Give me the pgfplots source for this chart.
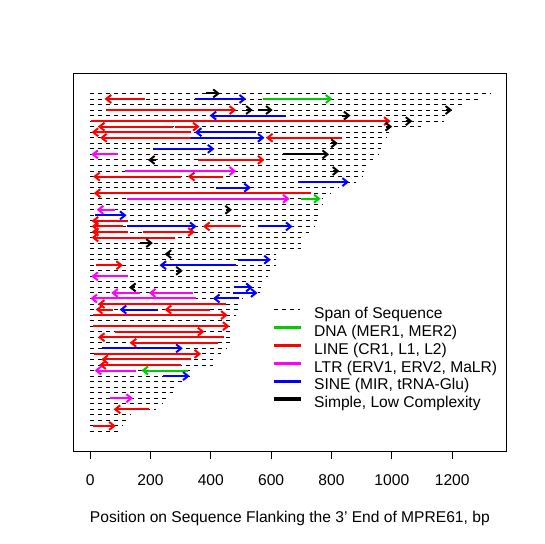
\documentclass[border=0pt]{standalone}
\usepackage{pgfplots}
\pgfplotsset{compat=1.18}
\usepackage{fontspec}
\setmainfont{Liberation Sans}
\usetikzlibrary{arrows.meta}
\definecolor{lgreen}{RGB}{0,205,0}
\definecolor{lred}{RGB}{255,0,0}
\definecolor{lmag}{RGB}{255,0,255}
\definecolor{lblue}{RGB}{0,0,255}
\tikzset{
  spanline/.style={black, line width=0.9bp, dash pattern=on 4bp off 4bp},
  arrowline/.style={line width=2bp, -{Straight Barb[length=5bp,width=8bp]}},
}
\newcommand{\spanrow}[2]{\addplot[spanline, forget plot] coordinates {(0,#1) (#2,#1)};}
\newcommand{\arr}[4]{\addplot[#1, arrowline, forget plot] coordinates {(#3,#2) (#4,#2)};}
\newcommand{\legbar}[1]{\addlegendimage{legend image code/.code={\fill[#1] (0bp,4.2bp) rectangle (26.7bp,6.4bp);}}}
\begin{document}
\begin{tikzpicture}[font=\fontsize{15.6bp}{18bp}\selectfont]
\path (0,0) rectangle (545bp,544bp);
\begin{axis}[
  at={(73.2bp,92.3bp)}, anchor=south west,
  scale only axis, width=433.3bp, height=378.5bp,
  xmin=-56, xmax=1380,
  ymin=-2.65, ymax=65.65, y dir=reverse,
  xtick={0,200,400,600,800,1000,1200},
  ytick=\empty,
  xtick pos=bottom,
  tick align=outside,
  major tick length=7.5bp,
  every tick/.style={black, line width=0.8bp},
  axis line style={line width=0.8bp},
  /pgf/number format/assume math mode=true,
  /pgf/number format/1000 sep={},
  xticklabel style={anchor=base, yshift=-25.8bp},
  xlabel={Position on Sequence Flanking the 3' End of MPRE61, bp},
  xlabel style={at={(axis description cs:0.5,0)}, anchor=base, yshift=-70.5bp},
  legend cell align=left,
  legend style={draw=none, fill=none, at={(rel axis cs:0.4618,0.3804)}, anchor=north west,
    inner sep=0pt, outer sep=0pt, row sep=3.3bp, column sep=13.3bp,
    nodes={inner sep=0pt, text height=11bp, text depth=3.5bp}},
]
\addlegendimage{legend image code/.code={\draw[black, line width=0.9bp, dash pattern=on 4bp off 4bp] (0bp,5.2bp) -- (26.7bp,5.2bp);}}
\addlegendentry{Span of Sequence}
\legbar{lgreen}
\addlegendentry{DNA (MER1, MER2)}
\legbar{lred}
\addlegendentry{LINE (CR1, L1, L2)}
\legbar{lmag}
\addlegendentry{LTR (ERV1, ERV2, MaLR)}
\legbar{lblue}
\addlegendentry{SINE (MIR, tRNA-Glu)}
\legbar{black}
\addlegendentry{Simple, Low Complexity}

\spanrow{1}{1328}
\spanrow{2}{1284}
\spanrow{3}{1245}
\spanrow{4}{1201}
\spanrow{5}{1177}
\spanrow{6}{1174}
\spanrow{7}{1096}
\spanrow{8}{990}
\spanrow{9}{985}
\spanrow{10}{980}
\spanrow{11}{964}
\spanrow{12}{959}
\spanrow{13}{937}
\spanrow{14}{926}
\spanrow{15}{909}
\spanrow{16}{904}
\spanrow{17}{882}
\spanrow{18}{826}
\spanrow{19}{799}
\spanrow{20}{771}
\spanrow{21}{771}
\spanrow{22}{766}
\spanrow{23}{755}
\spanrow{24}{751}
\spanrow{25}{744}
\spanrow{26}{727}
\spanrow{27}{700}
\spanrow{28}{700}
\spanrow{29}{700}
\spanrow{30}{617}
\spanrow{31}{617}
\spanrow{32}{617}
\spanrow{33}{595}
\spanrow{34}{590}
\spanrow{35}{579}
\spanrow{36}{567}
\spanrow{37}{562}
\spanrow{38}{507}
\spanrow{39}{501}
\spanrow{40}{501}
\spanrow{41}{485}
\spanrow{42}{474}
\spanrow{43}{474}
\spanrow{44}{463}
\spanrow{45}{463}
\spanrow{46}{463}
\spanrow{47}{452}
\spanrow{48}{435}
\spanrow{49}{407}
\spanrow{50}{407}
\spanrow{51}{330}
\spanrow{52}{330}
\spanrow{53}{307}
\spanrow{54}{291}
\spanrow{55}{274}
\spanrow{56}{252}
\spanrow{57}{241}
\spanrow{58}{217}
\spanrow{59}{137}
\spanrow{60}{118}
\spanrow{61}{107}
\spanrow{62}{93}

\arr{black}{1}{385}{430}
\arr{lred}{2}{181}{48}
\arr{lblue}{2}{346}{517}
\arr{lgreen}{2}{572}{803}
\arr{lred}{4}{54}{484}
\arr{black}{4}{517}{539}
\arr{black}{4}{555}{605}
\arr{black}{4}{1178}{1200}
\arr{lblue}{5}{649}{396}
\arr{black}{5}{836}{863}
\arr{lred}{6}{4}{996}
\arr{black}{6}{1046}{1068}
\arr{lred}{7}{275}{26}
\arr{lred}{7}{282}{363}
\arr{black}{7}{979}{1001}
\arr{lred}{8}{336}{5}
\arr{lblue}{8}{550}{347}
\arr{lred}{9}{336}{33}
\arr{lblue}{9}{335}{578}
\arr{lred}{9}{836}{583}
\arr{black}{10}{799}{821}
\arr{lblue}{11}{208}{412}
\arr{lmag}{12}{93}{4}
\arr{black}{12}{638}{792}
\arr{black}{13}{219}{192}
\arr{lred}{13}{357}{578}
\arr{lmag}{15}{115}{484}
\arr{black}{15}{804}{826}
\arr{lred}{16}{302}{10}
\arr{lred}{16}{440}{324}
\arr{lblue}{17}{688}{858}
\arr{lblue}{18}{418}{533}
\arr{lred}{19}{732}{12}
\arr{lmag}{20}{121}{661}
\arr{lgreen}{20}{699}{764}
\arr{lmag}{22}{83}{22}
\arr{black}{22}{451}{470}
\arr{lblue}{23}{17}{121}
\arr{lred}{24}{127}{5}
\arr{lred}{25}{110}{5}
\arr{lblue}{25}{121}{353}
\arr{lred}{25}{500}{374}
\arr{lblue}{25}{555}{671}
\arr{lred}{26}{127}{5}
\arr{lred}{26}{176}{347}
\arr{lred}{27}{281}{5}
\arr{black}{28}{164}{208}
\arr{black}{30}{265}{247}
\arr{lblue}{31}{489}{599}
\arr{lred}{32}{21}{109}
\arr{lblue}{32}{484}{230}
\arr{black}{33}{285}{307}
\arr{lmag}{34}{126}{4}
\arr{black}{36}{148}{129}
\arr{lblue}{36}{478}{539}
\arr{lmag}{37}{164}{70}
\arr{lmag}{37}{340}{195}
\arr{lblue}{37}{473}{555}
\arr{lmag}{38}{351}{1}
\arr{lblue}{38}{495}{407}
\arr{lred}{39}{451}{26}
\arr{lred}{40}{76}{19}
\arr{lblue}{40}{225}{98}
\arr{lred}{40}{396}{247}
\arr{lred}{41}{10}{456}
\arr{lred}{43}{10}{462}
\arr{lred}{44}{82}{379}
\arr{lred}{45}{445}{26}
\arr{lred}{46}{423}{131}
\arr{lblue}{47}{41}{307}
\arr{lred}{48}{12}{368}
\arr{lred}{49}{335}{37}
\arr{lred}{50}{302}{30}
\arr{lmag}{51}{153}{15}
\arr{lgreen}{51}{324}{170}
\arr{lblue}{52}{241}{330}
\arr{lmag}{56}{65}{142}
\arr{lred}{58}{195}{78}
\arr{lred}{61}{8}{85}
\end{axis}
\end{tikzpicture}
\end{document}
